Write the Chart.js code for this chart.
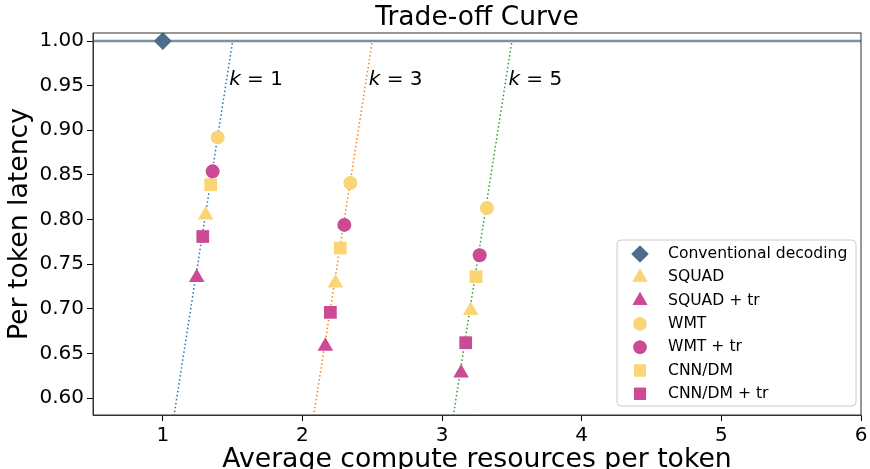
<!DOCTYPE html>
<html>
<head>
<meta charset="utf-8">
<script src="https://cdn.jsdelivr.net/npm/chart.js@4.4.1/dist/chart.umd.min.js"></script>
<style>
  html, body { margin: 0; padding: 0; background: #fff; }
  #wrap { width: 870px; height: 469px; }
</style>
</head>
<body>
<div id="wrap"><canvas id="chart"></canvas></div>
<script>
// values, one point per k = 1, 3, 5
const kValues = [1, 3, 5];
const squadX = [1.307, 2.236, 3.205];
const squadY = [0.805, 0.729, 0.698];
const squadTrX = [1.243, 2.164, 3.136];
const squadTrY = [0.735, 0.658, 0.628];
const wmtX = [1.393, 2.343, 3.321];
const wmtY = [0.892, 0.841, 0.813];
const wmtTrX = [1.357, 2.300, 3.269];
const wmtTrY = [0.854, 0.794, 0.760];
const cnnX = [1.343, 2.271, 3.243];
const cnnY = [0.839, 0.768, 0.736];
const cnnTrX = [1.286, 2.200, 3.169];
const cnnTrY = [0.781, 0.696, 0.662];
const conventionalX = [1];
const conventionalY = [1.0];

// dotted k-lines: top end on y = 1, bottom end on y = 0.5
const kLineTopX = [1.5, 2.5, 3.5];
const kLineBottomX = [1.0, 2.0, 3.0];
const kLineTopY = 1.0;
const kLineBottomY = 0.5;

const xTicks = [1, 2, 3, 4, 5, 6];
const yTicks = [0.60, 0.65, 0.70, 0.75, 0.80, 0.85, 0.90, 0.95, 1.00];

const YELLOW = '#f9d576';
const MAGENTA = '#cc4994';
const SLATE = '#4e6d8c';
const FONT = '"DejaVu Sans", sans-serif';
const lineColors = ['#1f77b4', '#ff7f0e', '#2ca02c'];

const pts = (xs, ys) => xs.map((x, i) => ({ x, y: ys[i] }));

const markerSets = [
  { label: 'Conventional decoding', data: pts(conventionalX, conventionalY), color: SLATE, style: 'rectRot', r: 9 },
  { label: 'SQUAD', data: pts(squadX, squadY), color: YELLOW, style: 'triangle', r: 9 },
  { label: 'SQUAD + tr', data: pts(squadTrX, squadTrY), color: MAGENTA, style: 'triangle', r: 9 },
  { label: 'WMT', data: pts(wmtX, wmtY), color: YELLOW, style: 'circle', r: 7 },
  { label: 'WMT + tr', data: pts(wmtTrX, wmtTrY), color: MAGENTA, style: 'circle', r: 7 },
  { label: 'CNN/DM', data: pts(cnnX, cnnY), color: YELLOW, style: 'rect', r: 9 },
  { label: 'CNN/DM + tr', data: pts(cnnTrX, cnnTrY), color: MAGENTA, style: 'rect', r: 9 }
];

const datasets = [];

datasets.push({
  type: 'line',
  label: 'baseline',
  data: [{ x: 0.5, y: 1.0 }, { x: 6, y: 1.0 }],
  borderColor: 'rgba(78,109,140,0.75)',
  borderWidth: 2.5,
  pointRadius: 0,
  order: 10
});

kValues.forEach((k, i) => {
  datasets.push({
    type: 'line',
    label: 'k=' + k,
    data: [{ x: kLineBottomX[i], y: kLineBottomY }, { x: kLineTopX[i], y: kLineTopY }],
    borderColor: lineColors[i],
    borderWidth: 1.5,
    borderDash: [1.5, 2.5],
    pointRadius: 0,
    order: 9
  });
});

markerSets.forEach(m => {
  datasets.push({
    type: 'scatter',
    label: m.label,
    data: m.data,
    backgroundColor: m.color,
    borderColor: m.color,
    borderWidth: 0,
    pointStyle: m.style,
    pointRadius: m.r,
    pointHoverRadius: m.r,
    order: 1
  });
});

const decor = {
  id: 'decor',
  afterDraw(chart) {
    const { ctx, chartArea: a, scales } = chart;
    ctx.save();
    // frame
    ctx.strokeStyle = '#333';
    ctx.lineWidth = 1;
    ctx.strokeRect(a.left, a.top, a.right - a.left, a.bottom - a.top);

    // title
    ctx.fillStyle = '#000';
    ctx.font = '26.5px ' + FONT;
    ctx.textAlign = 'center';
    ctx.textBaseline = 'middle';
    ctx.fillText('Trade-off Curve', (a.left + a.right) / 2, 18);

    // k labels
    ctx.textAlign = 'left';
    kValues.forEach((k, i) => {
      const x = scales.x.getPixelForValue(kLineTopX[i] - 0.025);
      const y = scales.y.getPixelForValue(0.957);
      ctx.font = 'italic 20px ' + FONT;
      ctx.fillText('k', x, y);
      const w = ctx.measureText('k').width;
      ctx.font = '20px ' + FONT;
      ctx.fillText(' = ' + k, x + w, y);
    });

    // legend
    const lx = 617, ly = 240, lw = 239, lh = 166;
    ctx.fillStyle = 'rgba(255,255,255,0.85)';
    ctx.strokeStyle = '#cccccc';
    ctx.lineWidth = 1;
    ctx.beginPath();
    ctx.roundRect(lx, ly, lw, lh, 4);
    ctx.fill();
    ctx.stroke();
    ctx.font = '15.6px ' + FONT;
    ctx.textBaseline = 'middle';
    markerSets.forEach((m, i) => {
      const cy = ly + 14 + i * 23.3;
      ctx.fillStyle = m.color;
      ctx.strokeStyle = m.color;
      Chart.helpers.drawPoint(ctx, { pointStyle: m.style, radius: m.r * 0.95, borderWidth: 0, rotation: 0 }, lx + 23, cy);
      ctx.fill();
      ctx.fillStyle = '#000';
      ctx.fillText(m.label, lx + 51, cy);
    });
    ctx.restore();
  }
};

new Chart(document.getElementById('chart'), {
  data: { datasets },
  options: {
    responsive: true,
    maintainAspectRatio: false,
    animation: false,
    layout: { padding: { left: 0, right: 5, top: 33, bottom: 0 } },
    plugins: {
      legend: { display: false },
      title: { display: false },
      tooltip: { enabled: false }
    },
    scales: {
      x: {
        type: 'linear',
        min: 0.5,
        max: 6,
        afterBuildTicks: s => { s.ticks = xTicks.map(v => ({ value: v })); },
        afterFit: s => { s.height = 54; s.paddingRight = 0; s.paddingLeft = 0; },
        grid: { drawOnChartArea: false, drawTicks: true, tickLength: 6, color: '#000' },
        border: { display: true, color: '#333', width: 1 },
        ticks: { font: { family: FONT, size: 20 }, color: '#000', padding: 3, maxRotation: 0 },
        title: {
          display: true,
          text: 'Average compute resources per token',
          font: { family: FONT, size: 26.7 },
          color: '#000',
          padding: { top: 0, bottom: -7 }
        }
      },
      y: {
        type: 'linear',
        min: 0.581,
        max: 1.009,
        afterBuildTicks: s => { s.ticks = yTicks.map(v => ({ value: v })); },
        afterFit: s => { s.width = 93; s.paddingTop = 0; s.paddingBottom = 0; },
        grid: { drawOnChartArea: false, drawTicks: true, tickLength: 6, color: '#000' },
        border: { display: true, color: '#333', width: 1 },
        ticks: {
          font: { family: FONT, size: 20 },
          color: '#000',
          padding: 3,
          callback: v => Number(v).toFixed(2)
        },
        title: {
          display: true,
          text: 'Per token latency',
          font: { family: FONT, size: 26.7 },
          color: '#000',
          padding: { top: 4, bottom: 0 }
        }
      }
    }
  },
  plugins: [decor]
});
</script>
</body>
</html>
